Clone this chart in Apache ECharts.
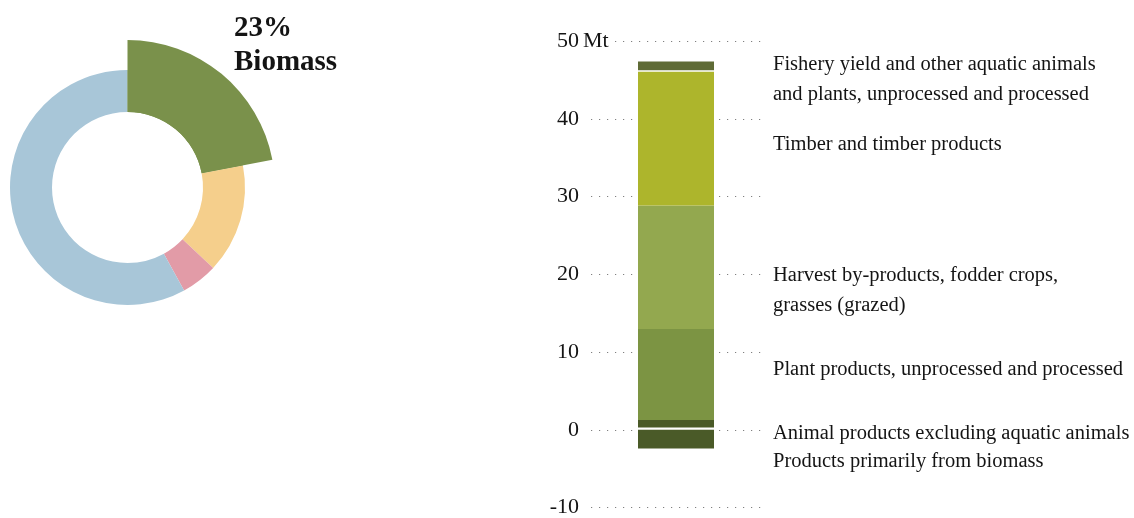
<!DOCTYPE html>
<html>
<head>
<meta charset="utf-8">
<script src="https://cdn.jsdelivr.net/npm/echarts@6.0.0/dist/echarts.min.js"></script>
<style>
html,body{margin:0;padding:0;background:#fff;}
#chart{width:1134px;height:518px;}
</style>
</head>
<body>
<div id="chart"></div>
<script>
// ---- Donut data (share of raw material input, %) ----
const pieNames = ['Biomass', 'Fossil energy carriers', 'Metals', 'Non-metallic minerals'];
const pieValues = [22, 15, 5, 58];
const pieColors = ['#7a914b', '#f5cf8c', '#e29ba7', '#a8c6d8'];
const highlightLabel = '23%\nBiomass';

// ---- Stacked bar data (Mt) ----
const barCategories = ['Biomass'];
const barNames = [
  'Animal products excluding aquatic animals',
  'Plant products, unprocessed and processed',
  'Harvest by-products, fodder crops,\ngrasses (grazed)',
  'Timber and timber products',
  'Fishery yield and other aquatic animals\nand plants, unprocessed and processed',
  'Products primarily from biomass'
];
const barValues = [1.25, 11.7, 15.9, 17.4, 1.1, -2.4];
const barColors = ['#4a5a28', '#7c9443', '#93a84f', '#adb52c', '#5f6b36', '#4a5a28'];
const labelOffsets = [9, -5, 23, 7, 14, 23];
const gapShadow = [0, 0, 0, 0, 1.5, -2.2];

// ---- Axis ----
const yMin = -10, yMax = 50, yStep = 10;
const yUnit = 'Mt';

const FONT = '"Liberation Serif", "DejaVu Serif", serif';
const TXT = '#141414';

const chart = echarts.init(document.getElementById('chart'), null, {renderer: 'canvas'});

const barSeries = barNames.map((name, i) => ({
  name: name,
  type: 'bar',
  stack: 'total',
  barWidth: 76,
  data: [barValues[i]],
  itemStyle: {
    color: barColors[i],
    borderWidth: 0,
    shadowColor: gapShadow[i] ? '#ffffff' : 'transparent',
    shadowBlur: 0,
    shadowOffsetY: gapShadow[i]
  },
  label: {
    show: true,
    position: 'right',
    distance: 59,
    offset: [0, labelOffsets[i]],
    formatter: () => name,
    fontFamily: FONT,
    fontSize: 20.5,
    lineHeight: 30,
    color: TXT,
    align: 'left'
  },
  emphasis: {disabled: true},
  silent: true,
  animation: false
}));

const option = {
  animation: false,
  title: {
    text: highlightLabel,
    left: 229,
    top: 7,
    textStyle: {fontFamily: FONT, fontSize: 29, fontWeight: 'bold', color: TXT, lineHeight: 34}
  },
  grid: {left: 591, top: 41, width: 170, height: 466.5, outerBoundsMode: 'none', containLabel: false},
  xAxis: {
    type: 'category',
    data: barCategories,
    show: false,
    boundaryGap: true
  },
  yAxis: {
    type: 'value',
    min: yMin, max: yMax, interval: yStep,
    name: yUnit,
    nameLocation: 'end',
    nameGap: 0,
    nameTextStyle: {
      fontFamily: FONT, fontSize: 22, color: TXT,
      align: 'left', verticalAlign: 'middle',
      padding: [0, 5, 0, -8],
      backgroundColor: '#fff'
    },
    axisLine: {show: false},
    axisTick: {show: false},
    axisLabel: {fontFamily: FONT, fontSize: 22, color: TXT, margin: 12},
    splitLine: {show: true, lineStyle: {color: '#808080', width: 1.2, type: [1.2, 6.8]}}
  },
  series: [
    {
      type: 'pie',
      center: [127.5, 187.5],
      radius: [75.5, 117.5],
      startAngle: 90,
      clockwise: true,
      silent: true,
      label: {show: false},
      labelLine: {show: false},
      itemStyle: {borderWidth: 0, borderRadius: 0},
      emphasis: {disabled: true},
      data: pieNames.map((n, i) => ({name: n, value: pieValues[i], itemStyle: {color: pieColors[i]}}))
    },
    {
      type: 'pie',
      center: [127.5, 187.5],
      radius: [75.5, 147.5],
      startAngle: 90,
      clockwise: true,
      silent: true,
      label: {show: false},
      labelLine: {show: false},
      itemStyle: {borderWidth: 0, borderRadius: 0},
      emphasis: {disabled: true},
      data: pieNames.map((n, i) => ({name: n, value: pieValues[i], itemStyle: {color: i === 0 ? pieColors[i] : 'rgba(0,0,0,0)'}}))
    }
  ].concat(barSeries) // negative segment last so its white gap is drawn over the animal segment
};
chart.setOption(option);
</script>
</body>
</html>
